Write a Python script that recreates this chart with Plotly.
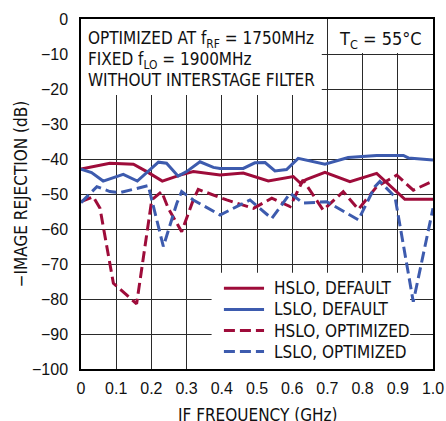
import plotly.graph_objects as go

# ---- data ----
hslo_def_x = [0.0, 0.082, 0.149, 0.187, 0.231, 0.281, 0.319, 0.395, 0.461, 0.532, 0.603, 0.622, 0.641, 0.693, 0.764, 0.840, 0.920, 1.0]
hslo_def_y = [-42.9, -41.2, -41.5, -43.6, -46.3, -44.6, -43.6, -44.6, -44.0, -46.3, -45.0, -46.8, -45.8, -43.8, -46.5, -44.1, -51.5, -51.5]

lslo_def_x = [0.0, 0.030, 0.063, 0.120, 0.160, 0.220, 0.243, 0.276, 0.300, 0.338, 0.376, 0.395, 0.461, 0.494, 0.523, 0.551, 0.584, 0.617, 0.693, 0.759, 0.840, 0.916, 0.930, 1.0]
lslo_def_y = [-42.9, -43.9, -46.3, -44.4, -46.3, -40.9, -41.2, -44.9, -43.6, -40.8, -42.4, -42.7, -42.7, -41.1, -41.0, -43.4, -43.0, -39.8, -41.5, -39.6, -39.0, -39.0, -39.7, -40.3]

hslo_opt_x = [0.0, 0.035, 0.054, 0.092, 0.158, 0.201, 0.229, 0.248, 0.286, 0.319, 0.333, 0.376, 0.414, 0.490, 0.542, 0.594, 0.631, 0.688, 0.745, 0.788, 0.840, 0.897, 0.944, 1.0]
hslo_opt_y = [-52.2, -50.8, -54.1, -75.5, -81.4, -51.7, -49.3, -54.1, -60.8, -51.7, -48.7, -50.4, -51.7, -54.1, -51.2, -53.6, -46.0, -54.6, -49.3, -54.4, -47.9, -44.6, -48.9, -46.3]

lslo_opt_x = [0.0, 0.045, 0.082, 0.111, 0.191, 0.234, 0.272, 0.286, 0.319, 0.395, 0.452, 0.480, 0.542, 0.594, 0.631, 0.698, 0.788, 0.835, 0.849, 0.892, 0.944, 1.0]
lslo_opt_y = [-52.5, -47.9, -49.3, -49.6, -47.6, -65.0, -52.7, -49.3, -51.7, -56.0, -53.1, -51.7, -57.0, -49.8, -52.6, -52.2, -57.4, -47.9, -46.4, -50.8, -80.8, -54.1]

series_names = ["HSLO, DEFAULT", "LSLO, DEFAULT", "HSLO, OPTIMIZED", "LSLO, OPTIMIZED"]

x_tickvals = [0, 0.1, 0.2, 0.3, 0.4, 0.5, 0.6, 0.7, 0.8, 0.9, 1.0]
x_ticktext = ["0", "0.1", "0.2", "0.3", "0.4", "0.5", "0.6", "0.7", "0.8", "0.9", "1.0"]
y_tickvals = [0, -10, -20, -30, -40, -50, -60, -70, -80, -90, -100]
y_ticktext = ["0", "\u221210", "\u221220", "\u221230", "\u221240", "\u221250", "\u221260", "\u221270", "\u221280", "\u221290", "\u2212100"]

x_title = "IF FREQUENCY (GHz)"
y_title = "\u2212IMAGE REJECTION (dB)"
note_lines = ["OPTIMIZED AT f<sub>RF</sub> = 1750MHz",
              "FIXED f<sub>LO</sub> = 1900MHz",
              "WITHOUT INTERSTAGE FILTER"]
temp_note = "T<sub>C</sub> = 55°C"

RED = "#9E0C3A"
BLUE = "#3D5BAE"
DASH = "11px,5px"
NARROW = "Liberation Sans Narrow, Arial Narrow, DejaVu Sans Condensed, sans-serif"
REG = "Liberation Sans, Arial, sans-serif"

styles = [dict(color=RED, width=3), dict(color=BLUE, width=3),
          dict(color=RED, width=3, dash=DASH), dict(color=BLUE, width=3, dash=DASH)]
series = [(hslo_def_x, hslo_def_y), (lslo_def_x, lslo_def_y),
          (hslo_opt_x, hslo_opt_y), (lslo_opt_x, lslo_opt_y)]

fig = go.Figure()
for (xs, ys), name, st in zip(series, series_names, styles):
    fig.add_trace(go.Scatter(x=xs, y=ys, mode="lines", name=name, line=st, showlegend=False))

# white boxes behind text blocks (cover grid, under traces)
fig.add_shape(type="rect", x0=0, x1=0.684, y0=-21.7, y1=0, layer="between",
              fillcolor="white", line=dict(width=0))
fig.add_shape(type="rect", x0=0.704, x1=1.0, y0=-9.7, y1=0, layer="between",
              fillcolor="white", line=dict(width=0))
fig.add_shape(type="rect", x0=0.371, x1=0.935, y0=-100, y1=-72.5, layer="between",
              fillcolor="white", line=dict(width=0))

ann_font = dict(family=NARROW, size=17, color="#111")
for i, txt in enumerate(note_lines):
    fig.add_annotation(x=0, y=-i * 6.0, xref="x", yref="y", text=txt, showarrow=False,
                       xanchor="left", yanchor="top", align="left", font=ann_font,
                       borderpad=0, xshift=6, yshift=-8)
fig.add_annotation(x=0.971, y=0, xref="x", yref="y", text=temp_note, showarrow=False,
                   xanchor="right", yanchor="top", font=dict(family=NARROW, size=18, color="#111"),
                   borderpad=0, yshift=-8)

# x-axis title (placed low, partly cut at the bottom edge like the reference)
fig.add_annotation(x=0.5, y=-0.1, xref="paper", yref="paper", text=x_title, showarrow=False,
                   xanchor="center", yanchor="top", font=ann_font, borderpad=0)

# legend (key samples + labels) inside the white box
leg_x0, leg_x1, leg_tx = 0.406, 0.520, 0.545
leg_y0, leg_dy = 0.2306, 0.0603
for i, (name, st) in enumerate(zip(series_names, styles)):
    yy = leg_y0 - i * leg_dy
    fig.add_shape(type="line", xref="paper", yref="paper", x0=leg_x0, x1=leg_x1, y0=yy, y1=yy,
                  line=st, layer="above")
    fig.add_annotation(x=leg_tx, y=yy, xref="paper", yref="paper", text=name, showarrow=False,
                       xanchor="left", yanchor="middle", font=ann_font, borderpad=0)

fig.update_xaxes(range=[0, 1.0], tickvals=x_tickvals, ticktext=x_ticktext,
                 showgrid=True, gridcolor="#2a2a2a", gridwidth=1,
                 showline=True, linecolor="black", linewidth=1.5, mirror=True,
                 zeroline=False, ticks="", ticklabelstandoff=4,
                 tickfont=dict(family=REG, size=16, color="#111"))
fig.update_yaxes(range=[-100, 0], tickvals=y_tickvals, ticktext=y_ticktext,
                 showgrid=True, gridcolor="#2a2a2a", gridwidth=1,
                 showline=True, linecolor="black", linewidth=1.5, mirror=True,
                 zeroline=False, ticks="", ticklabelstandoff=8,
                 tickfont=dict(family=REG, size=16, color="#111"),
                 title=dict(text=y_title, font=dict(family=NARROW, size=17, color="#111"),
                            standoff=0))

fig.update_layout(
    width=446, height=421,
    margin=dict(l=81, r=13, t=19, b=52, autoexpand=False),
    paper_bgcolor="white", plot_bgcolor="white",
    showlegend=False,
)

fig.write_html("out.html", config={"displayModeBar": False},
               post_script="document.body.style.margin='0';")
